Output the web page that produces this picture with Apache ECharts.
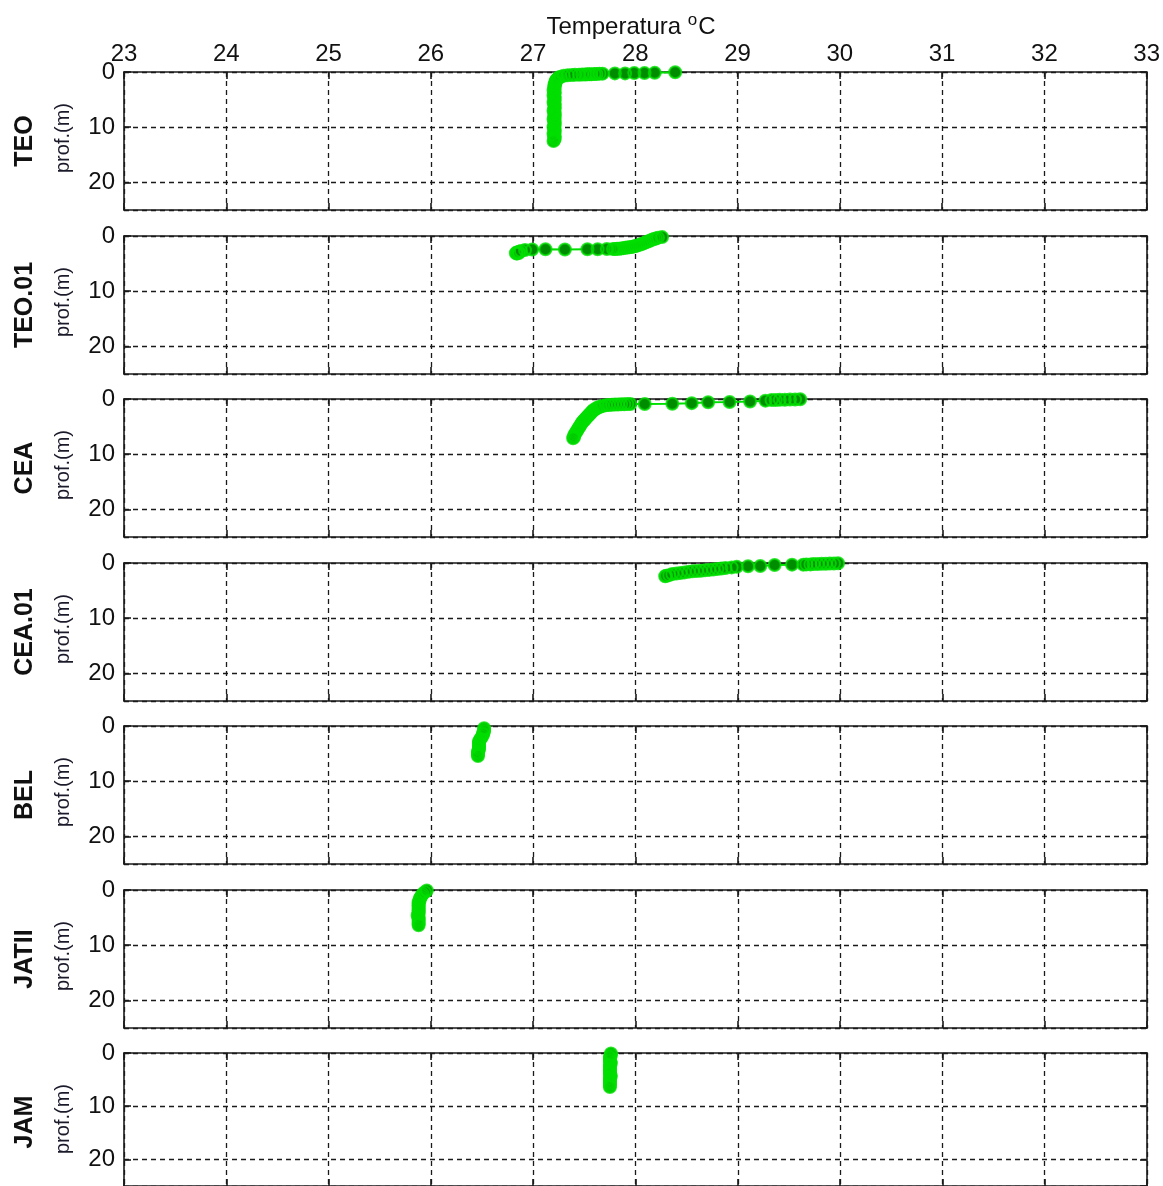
<!DOCTYPE html>
<html>
<head>
<meta charset="utf-8">
<script src="https://cdn.jsdelivr.net/npm/echarts@6/dist/echarts.min.js"></script>
<style>
  html, body { margin: 0; padding: 0; background: #fff; }
  #chart { width: 1163px; height: 1186px; }
</style>
</head>
<body>
<div id="chart"></div>
<script>
// Temperature profiles (°C) against depth (m), surface first, one panel per station
const stations = ['TEO', 'TEO.01', 'CEA', 'CEA.01', 'BEL', 'JATII', 'JAM'];
const xTicks = [23, 24, 25, 26, 27, 28, 29, 30, 31, 32, 33];
const yTicks = [0, 10, 20];

const teoTemp = [28.39, 28.19, 28.09, 27.99, 27.90, 27.80, 27.68, 27.65, 27.62, 27.60, 27.57, 27.55, 27.53,
  27.51, 27.48, 27.45, 27.41, 27.38, 27.34, 27.30, 27.27, 27.25, 27.24, 27.23, 27.22, 27.22,
  27.22, 27.21, 27.21, 27.21, 27.21, 27.20, 27.21, 27.21, 27.21, 27.20, 27.21, 27.21, 27.21, 27.21,
  27.20, 27.21, 27.21, 27.21, 27.21, 27.21, 27.20, 27.21, 27.21, 27.21, 27.21, 27.21, 27.20, 27.21,
  27.21, 27.21, 27.21, 27.21, 27.20, 27.21, 27.21, 27.21, 27.21, 27.20, 27.21, 27.21, 27.21, 27.21, 27.20];
const teoDepth = [0.05, 0.15, 0.2, 0.2, 0.25, 0.25, 0.3, 0.3, 0.35, 0.35, 0.4, 0.4, 0.4,
  0.45, 0.45, 0.5, 0.5, 0.55, 0.6, 0.7, 0.85, 1.0, 1.2, 1.4, 1.6, 1.8,
  2.0, 2.25, 2.5, 2.75, 3.0, 3.25, 3.5, 3.75, 4.0, 4.25, 4.5, 4.75, 5.0, 5.25,
  5.5, 5.75, 6.0, 6.25, 6.5, 6.75, 7.0, 7.25, 7.5, 7.75, 8.0, 8.25, 8.5, 8.75,
  9.0, 9.25, 9.5, 9.75, 10.0, 10.25, 10.5, 10.75, 11.0, 11.25, 11.5, 11.75, 12.0, 12.25, 12.5];

const teo01Temp = [28.26, 28.22, 28.20, 28.18, 28.16, 28.14, 28.12, 28.10, 28.08, 28.06, 28.04, 28.02,
  28.00, 27.98, 27.96, 27.94, 27.92, 27.90, 27.88, 27.86, 27.84, 27.82, 27.80, 27.78, 27.72, 27.63,
  27.53, 27.31, 27.12, 26.99, 26.92, 26.88, 26.86, 26.84, 26.83, 26.84, 26.86];
const teo01Depth = [0.2, 0.3, 0.45, 0.55, 0.7, 0.85, 1.0, 1.15, 1.3, 1.45, 1.6, 1.7,
  1.8, 1.9, 2.0, 2.05, 2.1, 2.15, 2.2, 2.25, 2.3, 2.3, 2.35, 2.35, 2.35, 2.4,
  2.4, 2.45, 2.4, 2.45, 2.55, 2.7, 2.85, 3.0, 3.1, 3.2, 3.1];

const ceaTemp = [29.61, 29.56, 29.51, 29.46, 29.41, 29.37, 29.33, 29.27, 29.12, 28.92, 28.71, 28.55,
  28.36, 28.09, 27.95, 27.92, 27.89, 27.86, 27.83, 27.80, 27.77, 27.74, 27.71, 27.68, 27.66, 27.64,
  27.62, 27.61, 27.59, 27.58, 27.57, 27.56, 27.55, 27.54, 27.53, 27.52, 27.51, 27.50, 27.49, 27.48,
  27.47, 27.46, 27.45, 27.44, 27.43, 27.42, 27.41, 27.40, 27.40, 27.39];
const ceaDepth = [0.05, 0.1, 0.1, 0.15, 0.15, 0.2, 0.2, 0.3, 0.45, 0.55, 0.6, 0.75,
  0.85, 0.9, 0.9, 0.9, 0.95, 0.95, 1.0, 1.0, 1.05, 1.1, 1.15, 1.25, 1.35, 1.5,
  1.65, 1.8, 2.0, 2.2, 2.4, 2.6, 2.8, 3.0, 3.2, 3.4, 3.6, 3.8, 4.0, 4.2,
  4.5, 4.8, 5.1, 5.4, 5.7, 6.0, 6.3, 6.6, 6.9, 7.1];

const cea01Temp = [29.98, 29.94, 29.90, 29.86, 29.82, 29.78, 29.74, 29.71, 29.67, 29.64, 29.53, 29.36,
  29.22, 29.10, 28.99, 28.94, 28.88, 28.84, 28.80, 28.76, 28.72, 28.68, 28.64, 28.60, 28.56, 28.52,
  28.48, 28.44, 28.40, 28.36, 28.33, 28.30, 28.29];
const cea01Depth = [0.05, 0.1, 0.1, 0.15, 0.15, 0.2, 0.2, 0.25, 0.25, 0.3, 0.3, 0.35,
  0.55, 0.6, 0.7, 0.8, 0.9, 1.0, 1.1, 1.2, 1.25, 1.3, 1.4, 1.45, 1.5, 1.6,
  1.7, 1.8, 1.9, 2.0, 2.2, 2.3, 2.4];

const belTemp = [26.52, 26.52, 26.52, 26.51, 26.51, 26.50, 26.49, 26.48, 26.47, 26.47, 26.47, 26.47,
  26.47, 26.47, 26.46, 26.46, 26.46, 26.46];
const belDepth = [0.4, 0.7, 1.0, 1.3, 1.6, 1.9, 2.2, 2.5, 2.8, 3.1, 3.4, 3.7,
  4.0, 4.3, 4.6, 4.9, 5.2, 5.45];

const jatiiTemp = [25.96, 25.94, 25.92, 25.91, 25.90, 25.89, 25.89, 25.88, 25.88, 25.88, 25.88, 25.88,
  25.88, 25.88, 25.88, 25.87, 25.88, 25.88, 25.88, 25.88, 25.88, 25.88];
const jatiiDepth = [0.1, 0.4, 0.7, 1.0, 1.3, 1.6, 1.9, 2.2, 2.5, 2.8, 3.1, 3.4,
  3.7, 4.0, 4.3, 4.6, 4.9, 5.2, 5.5, 5.8, 6.1, 6.4];

const jamTemp = [27.76, 27.76, 27.75, 27.75, 27.75, 27.75, 27.76, 27.75, 27.75, 27.75, 27.75, 27.75,
  27.75, 27.75, 27.76, 27.75, 27.75, 27.75, 27.75, 27.75, 27.75, 27.75];
const jamDepth = [0.1, 0.4, 0.7, 1.0, 1.3, 1.6, 1.9, 2.2, 2.5, 2.8, 3.1, 3.4,
  3.7, 4.0, 4.3, 4.6, 4.9, 5.2, 5.5, 5.8, 6.1, 6.4];

const profiles = [
  [teoTemp, teoDepth], [teo01Temp, teo01Depth], [ceaTemp, ceaDepth], [cea01Temp, cea01Depth],
  [belTemp, belDepth], [jatiiTemp, jatiiDepth], [jamTemp, jamDepth]
];

// layout
const LEFT = 124, RIGHT = 16, TOP0 = 72, STEP = 163.5, H = 138;
const FONT = '"Liberation Sans", Arial, sans-serif';
const BRIGHT = '#00e000', DARK = '#008c00', INK = '#1a1a1a';
const MARK = 12;

const grids = [], xAxes = [], yAxes = [], series = [], graphics = [];

stations.forEach((name, i) => {
  const top = Math.round(TOP0 + i * STEP);
  grids.push({ left: LEFT, right: RIGHT, top: top, height: H, show: false });

  const xBase = {
    type: 'value', gridIndex: i, min: xTicks[0], max: xTicks[xTicks.length - 1], interval: 1,
    axisLine: { show: true, onZero: false, lineStyle: { color: INK, width: 1.6 } },
    axisTick: { show: true, inside: true, length: 7, lineStyle: { color: INK, width: 1.6 } }
  };
  xAxes.push(Object.assign({}, xBase, {
    position: 'top',
    axisLabel: { show: i === 0, margin: 6, fontSize: 24, fontFamily: FONT, color: '#111' },
    splitLine: { show: true, lineStyle: { color: INK, width: 1.3, type: [5, 4] } }
  }));
  xAxes.push(Object.assign({}, xBase, {
    position: 'bottom',
    axisLabel: { show: false },
    splitLine: { show: false }
  }));

  const yBase = {
    type: 'value', gridIndex: i, min: 0, max: 25, interval: 10, inverse: true,
    axisLine: { show: true, onZero: false, lineStyle: { color: INK, width: 1.6 } },
    axisTick: { show: true, inside: true, length: 7, lineStyle: { color: INK, width: 1.6 } }
  };
  yAxes.push(Object.assign({}, yBase, {
    position: 'left',
    axisLabel: {
      show: true, margin: 9, fontSize: 24, fontFamily: FONT, color: '#111',
      showMaxLabel: false,
      formatter: v => (yTicks.indexOf(v) >= 0 ? String(v) : '')
    },
    splitLine: { show: true, lineStyle: { color: INK, width: 1.3, type: [5, 4] } }
  }));
  yAxes.push(Object.assign({}, yBase, {
    position: 'right',
    axisLabel: { show: false },
    splitLine: { show: false }
  }));

  const [temp, depth] = profiles[i];
  const pts = temp.map((t, k) => [t, depth[k]]);

  // profile line with dark filled markers
  series.push({
    type: 'line', xAxisIndex: 2 * i, yAxisIndex: 2 * i, data: pts,
    symbol: 'circle', symbolSize: MARK, showAllSymbol: true,
    itemStyle: { color: DARK },
    lineStyle: { color: BRIGHT, width: 2 },
    emphasis: { disabled: true }, silent: true, z: 3
  });
  // bright marker outlines drawn over the discs
  series.push({
    type: 'scatter', xAxisIndex: 2 * i, yAxisIndex: 2 * i, data: pts,
    symbol: 'circle', symbolSize: MARK,
    itemStyle: { color: 'rgba(0,0,0,0)', borderColor: BRIGHT, borderWidth: 2 },
    emphasis: { disabled: true }, silent: true, z: 4
  });

  const mid = top + H / 2;
  graphics.push({
    type: 'text', x: 25, y: mid, rotation: Math.PI / 2,
    style: { text: name, font: 'bold 25px ' + FONT, fill: '#111', align: 'center', verticalAlign: 'middle' }
  });
  graphics.push({
    type: 'text', x: 63, y: mid - 3, rotation: Math.PI / 2,
    style: { text: 'prof.(m)', font: '20px ' + FONT, fill: '#1a1a2a', align: 'center', verticalAlign: 'middle' }
  });
});

graphics.push({
  type: 'text', x: 631, y: 27,
  style: {
    text: '{t|Temperatura }{s|o}{t|C}',
    align: 'center', verticalAlign: 'middle',
    rich: {
      t: { fontSize: 24, fontFamily: FONT, fill: '#111', color: '#111', lineHeight: 30 },
      s: { fontSize: 17, fontFamily: FONT, fill: '#111', color: '#111', verticalAlign: 'top', lineHeight: 30, padding: [0, 1, 10, 0] }
    }
  }
});

const chart = echarts.init(document.getElementById('chart'), null, { renderer: 'canvas' });
chart.setOption({
  animation: false,
  backgroundColor: '#fff',
  grid: grids,
  xAxis: xAxes,
  yAxis: yAxes,
  series: series,
  graphic: graphics
});
</script>
</body>
</html>
